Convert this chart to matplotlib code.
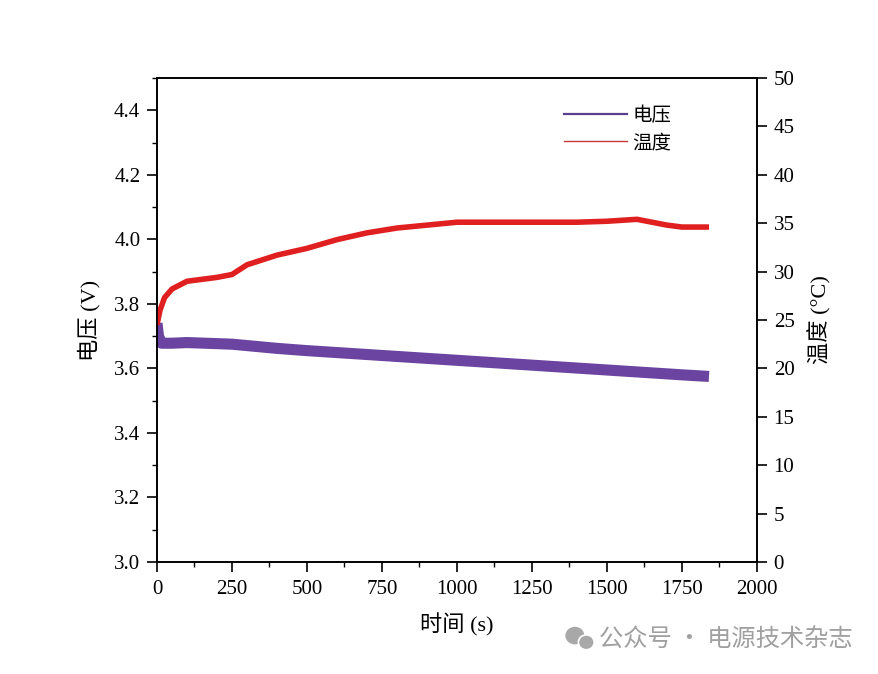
import matplotlib
matplotlib.use('Agg')
import matplotlib.pyplot as plt
from matplotlib.lines import Line2D
from matplotlib.patches import Ellipse
from matplotlib.ticker import MultipleLocator

plt.rcParams['font.family'] = ['Liberation Serif', 'Noto Sans CJK SC']

# voltage (V) vs time (s)
v_time = [0, 5, 15, 50, 100, 250, 400, 500, 750, 1000, 1250, 1500, 1750, 1840]
voltage = [3.74, 3.70, 3.678, 3.678, 3.68, 3.675, 3.662, 3.655, 3.64, 3.625, 3.61, 3.595, 3.58, 3.575]

# temperature (°C) vs time (s)
t_time = [0, 10, 25, 50, 100, 200, 250, 300, 400, 500, 600, 700, 800, 900,
          1000, 1200, 1400, 1500, 1600, 1650, 1700, 1750, 1840]
temp = [24.5, 26.0, 27.3, 28.2, 29.0, 29.4, 29.7, 30.7, 31.7, 32.4, 33.3, 34.0,
        34.5, 34.8, 35.1, 35.1, 35.1, 35.2, 35.4, 35.1, 34.8, 34.6, 34.6]

fig = plt.figure(figsize=(8.79, 6.74), dpi=100)
ax = fig.add_axes([0.1786, 0.1662, 0.6826, 0.7181])
ax2 = ax.twinx()

ax.plot(v_time, voltage, color='#6a44a0', lw=8, solid_capstyle='butt', zorder=2)
ax2.plot(t_time, temp, color='#e02020', lw=4, solid_capstyle='butt', zorder=2)

ax.set_xlim(0, 2000)
ax.set_ylim(3.0, 4.5)
ax2.set_ylim(0, 50)

ax.xaxis.set_major_locator(MultipleLocator(250))
ax.xaxis.set_minor_locator(MultipleLocator(125))
ax.yaxis.set_minor_locator(MultipleLocator(0.1))
ax.set_yticks([3.0, 3.2, 3.4, 3.6, 3.8, 4.0, 4.2, 4.4])
ax2.yaxis.set_major_locator(MultipleLocator(5))

for a in (ax, ax2):
    a.tick_params(direction='out', length=7, width=1.2, labelsize=15, pad=5)
    a.tick_params(which='minor', direction='out', length=3.5, width=1.0)
    for s in a.spines.values():
        s.set_linewidth(1.2)

ax.tick_params(axis='x', pad=6)
ax.yaxis.set_major_formatter(plt.FormatStrFormatter('%.1f'))

ax.set_xlabel('时间 (s)', fontsize=16, labelpad=10)
ax.set_ylabel('电压 (V)', fontsize=16, labelpad=10)
ax2.set_ylabel('温度 (°C)', fontsize=16, labelpad=10)

handles = [Line2D([], [], color='#5a3f8a', lw=1.6),
           Line2D([], [], color='#c83a3a', lw=1.0)]
ax.legend(handles, ['电压', '温度'], loc='upper left', bbox_to_anchor=(0.65, 0.98),
          frameon=False, handlelength=3.2, handletextpad=0.3,
          labelspacing=0.3, prop={'family': ['Noto Sans CJK SC'], 'size': 14})

# watermark with a small chat-bubble icon
fig.patches.append(Ellipse((0.654, 0.057), 0.020, 0.024, transform=fig.transFigure,
                           color='#a8a8a8', zorder=5))
fig.patches.append(Ellipse((0.667, 0.047), 0.018, 0.022, transform=fig.transFigure,
                           facecolor='#a8a8a8', edgecolor='white', lw=1.2, zorder=6))
fig.text(0.682, 0.052, '公众号 · 电源技术杂志', ha='left', va='center',
         fontsize=17.5, color='#a0a0a0', family=['Noto Sans CJK SC'])

fig.savefig('out.png', dpi=100)
